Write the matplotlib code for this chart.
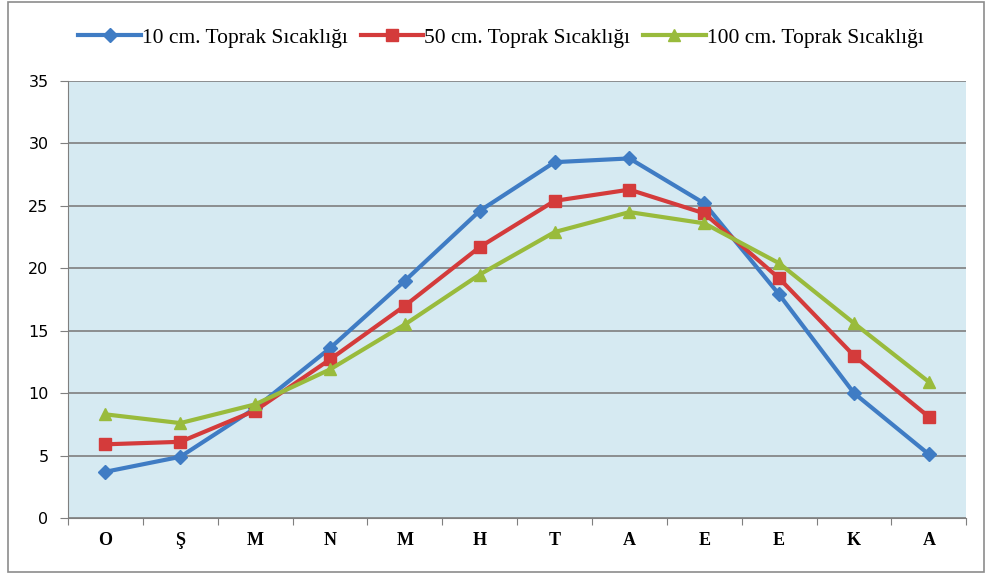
import matplotlib.pyplot as plt
from matplotlib.patches import Rectangle

months = ["O", "Ş", "M", "N", "M", "H", "T", "A", "E", "E", "K", "A"]
soil_10 = [3.7, 4.9, 8.8, 13.6, 19.0, 24.6, 28.5, 28.8, 25.2, 17.9, 10.0, 5.1]
soil_50 = [5.9, 6.1, 8.6, 12.7, 17.0, 21.7, 25.4, 26.3, 24.4, 19.2, 13.0, 8.1]
soil_100 = [8.3, 7.6, 9.1, 11.9, 15.5, 19.5, 22.9, 24.5, 23.6, 20.4, 15.6, 10.9]

fig = plt.figure(figsize=(9.86, 5.77), dpi=100)
ax = fig.add_axes([0.069, 0.1023, 0.911, 0.7573])
ax.set_facecolor("#d6eaf2")

x = range(len(months))
ax.plot(x, soil_10, color="#3f7cc4", lw=3, marker="D", ms=7, label="10 cm. Toprak Sıcaklığı")
ax.plot(x, soil_50, color="#d43b3b", lw=3, marker="s", ms=9, label="50 cm. Toprak Sıcaklığı")
ax.plot(x, soil_100, color="#99bb3c", lw=3, marker="^", ms=9, label="100 cm. Toprak Sıcaklığı")

ax.set_xlim(-0.5, len(months) - 0.5)
ax.set_ylim(0, 35)
ax.set_yticks(range(0, 36, 5))
ax.yaxis.grid(True, color="#7f7f7f", lw=1.2)
ax.set_axisbelow(True)
ax.set_xticks([i - 0.5 for i in range(len(months) + 1)], minor=False)
ax.set_xticklabels([])
ax.set_xticks(list(x), minor=True)
ax.set_xticklabels(months, minor=True, family="Liberation Serif", fontsize=13, fontweight="bold")
ax.tick_params(axis="x", which="minor", length=0, pad=10)
ax.tick_params(axis="x", which="major", length=5, color="#7f7f7f")
ax.tick_params(axis="y", length=6, color="#7f7f7f", labelsize=11.5, pad=8)
for s in ["top", "right"]:
    ax.spines[s].set_visible(False)
for s in ["left", "bottom"]:
    ax.spines[s].set_color("#7f7f7f")

fig.legend(loc="center", bbox_to_anchor=(0.508, 0.935), ncol=3, frameon=False,
           prop={"family": "Liberation Serif", "size": 15.5}, handlelength=2.9,
           handletextpad=0.05, columnspacing=0.6)
fig.patches.append(Rectangle((0.008, 0.008), 0.99, 0.988, transform=fig.transFigure,
                             fill=False, ec="#8c8c8c", lw=1.2))
fig.savefig("out.png", dpi=100)
